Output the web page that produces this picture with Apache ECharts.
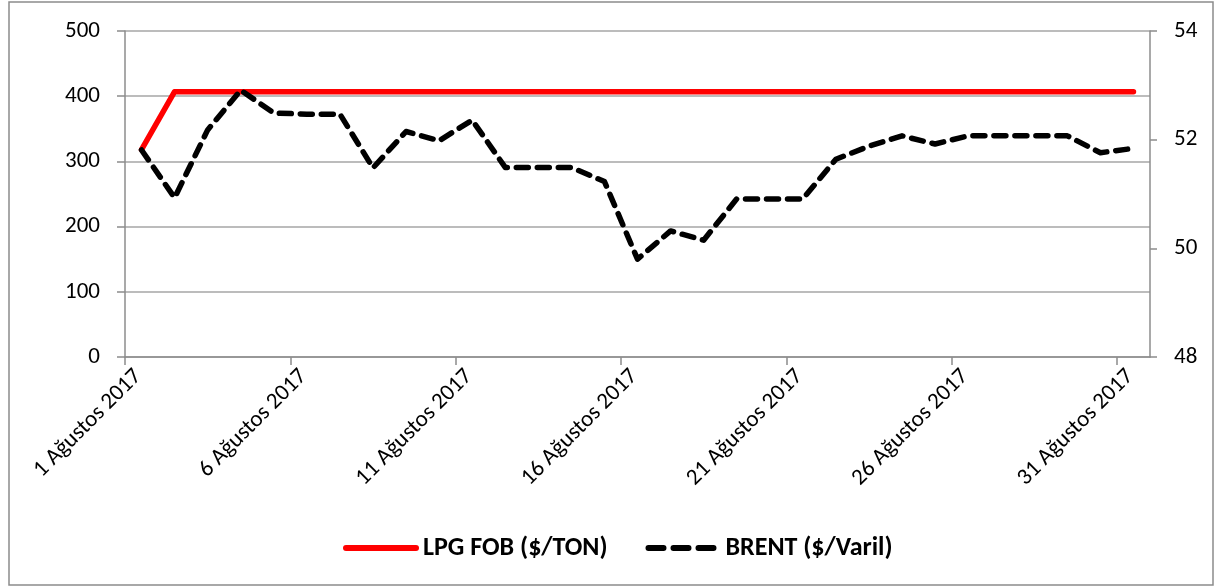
<!DOCTYPE html>
<html>
<head>
<meta charset="utf-8">
<script src="https://cdn.jsdelivr.net/npm/echarts@6/dist/echarts.min.js"></script>
<style>
  html, body { margin: 0; padding: 0; background: #fff; }
  #chart { width: 1219px; height: 586px; }
</style>
</head>
<body>
<div id="chart"></div>
<script>
// days of August 2017
const days = Array.from({length: 31}, (_, i) => i + 1)

const lpgFob = [318, 407, 407, 407, 407, 407, 407, 407, 407, 407, 407, 407, 407, 407, 407, 407,
  407, 407, 407, 407, 407, 407, 407, 407, 407, 407, 407, 407, 407, 407, 407]

const brent = [51.81, 50.93, 52.18, 52.91, 52.49, 52.47, 52.47, 51.48, 52.15, 51.98, 52.36,
  51.49, 51.49, 51.49, 51.23, 49.80, 50.32, 50.15, 50.91, 50.91, 50.91, 51.64, 51.88,
  52.07, 51.92, 52.07, 52.07, 52.07, 52.07, 51.76, 51.84]

const tickDays = [1, 6, 11, 16, 21, 26, 31]
const tickLabels = ["1 Ağustos 2017", "6 Ağustos 2017", "11 Ağustos 2017", "16 Ağustos 2017",
  "21 Ağustos 2017", "26 Ağustos 2017", "31 Ağustos 2017"]

const font = "Carlito, Lato, sans-serif"
const axisGray = "#8c8c8c"

// each day occupies one unit band; points sit in the middle of their band
const pts = vals => vals.map((v, i) => [days[i] - 0.5, v])
const tickPos = tickDays.map(d => d - 1)
// Excel hangs its slanted labels a little to the right of the tick
const labelPos = tickPos.map(p => p + 0.4)

const chart = echarts.init(document.getElementById("chart"))

chart.setOption({
  animation: false,
  backgroundColor: "#fff",
  textStyle: {fontFamily: font},
  graphic: [{
    type: "rect",
    shape: {x: 9, y: 2, width: 1204, height: 583},
    style: {fill: "none", stroke: "#8c8c8c", lineWidth: 1.5},
    silent: true,
  }],
  grid: {left: 125, right: 69, top: 31, bottom: 229, outerBoundsMode: "none"},
  legend: {
    bottom: 20,
    left: 338,
    itemWidth: 70,
    itemHeight: 14,
    itemGap: 38,
    itemStyle: {opacity: 0},
    lineStyle: {width: 6},
    textStyle: {fontFamily: font, fontSize: 26, fontWeight: "bold", color: "#000", padding: [0, 0, 0, 2]},
    data: [
      {name: "LPG FOB ($/TON)"},
      {name: "BRENT ($/Varil)", lineStyle: {width: 6, type: [15, 10], cap: "round"}},
    ],
  },
  xAxis: {
    type: "value",
    min: 0,
    max: 31,
    splitLine: {show: false},
    axisLine: {lineStyle: {color: axisGray, width: 1.5}},
    axisTick: {
      length: 8,
      lineStyle: {color: axisGray, width: 1.5},
      customValues: tickPos,
    },
    axisLabel: {
      rotate: 45,
      margin: 16,
      fontSize: 23,
      color: "#000",
      fontFamily: font,
      customValues: labelPos,
      formatter: v => tickLabels[labelPos.findIndex(p => Math.abs(p - v) < 0.01)] || "",
    },
  },
  yAxis: [
    {
      type: "value",
      min: 0,
      max: 500,
      interval: 100,
      axisLine: {show: true, lineStyle: {color: axisGray, width: 1.5}},
      axisTick: {show: true, length: 8, lineStyle: {color: axisGray, width: 1.5}},
      axisLabel: {fontSize: 23, color: "#000", margin: 25, fontFamily: font},
      splitLine: {lineStyle: {color: "#a6a6a6", width: 1.5}},
    },
    {
      type: "value",
      min: 48,
      max: 54,
      interval: 2,
      axisLine: {show: true, lineStyle: {color: axisGray, width: 1.5}},
      axisTick: {show: true, length: 7, lineStyle: {color: axisGray, width: 1.5}},
      axisLabel: {fontSize: 23, color: "#000", margin: 24, fontFamily: font},
      splitLine: {show: false},
    },
  ],
  series: [
    {
      name: "LPG FOB ($/TON)",
      type: "line",
      yAxisIndex: 0,
      data: pts(lpgFob),
      symbol: "none",
      color: "#ff0000",
      lineStyle: {color: "#ff0000", width: 5.5, cap: "round", join: "round"},
    },
    {
      name: "BRENT ($/Varil)",
      type: "line",
      yAxisIndex: 1,
      data: pts(brent),
      symbol: "none",
      color: "#000",
      lineStyle: {color: "#000", width: 5.5, type: [12, 9], cap: "round", join: "round"},
    },
  ],
})
</script>
</body>
</html>
